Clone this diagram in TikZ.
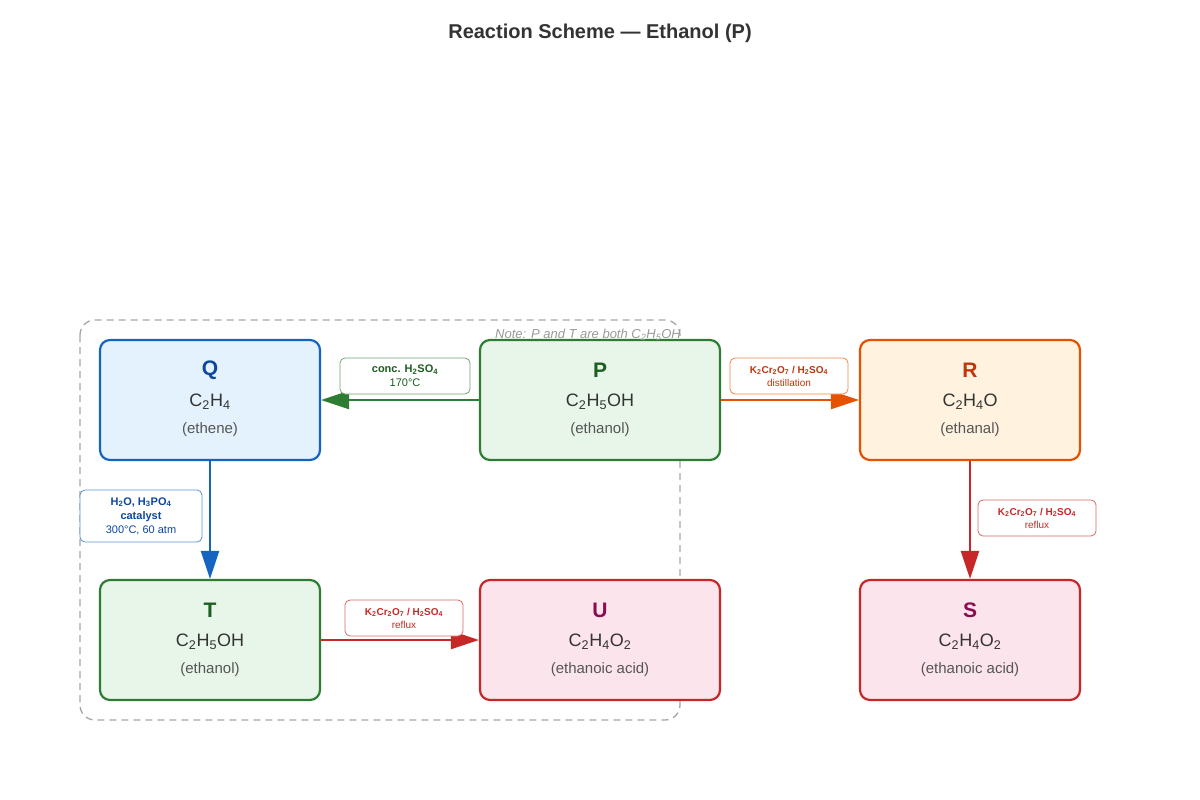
\documentclass[tikz,border=0pt]{standalone}
\usepackage{fontspec}
\setmainfont{Liberation Sans}
\usetikzlibrary{arrows.meta}
\definecolor{bl}{HTML}{1565C0}\definecolor{blf}{HTML}{E3F2FD}\definecolor{blt}{HTML}{0D47A1}
\definecolor{gr}{HTML}{2E7D32}\definecolor{grf}{HTML}{E8F5E9}\definecolor{grt}{HTML}{1B5E20}
\definecolor{or}{HTML}{E65100}\definecolor{orf}{HTML}{FFF3E0}\definecolor{ort}{HTML}{BF360C}
\definecolor{rd}{HTML}{C62828}\definecolor{rdf}{HTML}{FCE4EC}\definecolor{pu}{HTML}{880E4F}
\definecolor{tx}{HTML}{333333}\definecolor{sub}{HTML}{555555}
\newcommand{\sbs}[1]{\textsubscript{#1}}
\tikzset{
 box/.style={draw,line width=2.2pt,rounded corners=10pt,minimum width=220pt,minimum height=120pt},
 lbl/.style={draw,fill=white,rounded corners=5pt,line width=0.8pt,align=center,font=\fontsize{11}{13}\selectfont,inner sep=0pt},
 arr/.style={line width=2.5pt,-{Triangle[length=28pt,width=18pt]}},
 ttl/.style={font=\fontsize{21}{24}\selectfont\bfseries},
 frm/.style={font=\fontsize{18}{20}\selectfont,text=tx},
 nm/.style={font=\fontsize{15}{18}\selectfont,text=sub},
}
\newcommand{\chem}[6]{% name,x,y,letter,formula,sub ; colors handled outside
}
\begin{document}
\begin{tikzpicture}[x=1pt,y=-1pt]
\useasboundingbox (0,0) rectangle (1200,800);
\node[font=\fontsize{20}{24}\selectfont\bfseries,text=tx] (title) at (600,33) {Reaction Scheme — Ethanol (P)};
\draw[gray!70,dashed,line width=1.3pt,dash pattern=on 7pt off 5pt,rounded corners=15pt] (80,320) rectangle (680,720);
% boxes
\node[box,draw=bl,fill=blf] (Q) at (210,400) {};
\node[box,draw=gr,fill=grf,minimum width=240pt] (P) at (600,400) {};
\node[box,draw=or,fill=orf] (R) at (970,400) {};
\node[box,draw=gr,fill=grf] (T) at (210,640) {};
\node[box,draw=rd,fill=rdf,minimum width=240pt] (U) at (600,640) {};
\node[box,draw=rd,fill=rdf] (S) at (970,640) {};
\node[font=\fontsize{13}{15}\selectfont\itshape,text=gray!80] (note) at (588,335) {Note: P and T are both C\sbs{2}H\sbs{5}OH};
% texts
\foreach \n/\x/\y/\L/\c/\f/\s in {q/210/400/Q/blt/C\sbs{2}H\sbs{4}/(ethene), p/600/400/P/grt/C\sbs{2}H\sbs{5}OH/(ethanol), r/970/400/R/ort/C\sbs{2}H\sbs{4}O/(ethanal), t/210/640/T/grt/C\sbs{2}H\sbs{5}OH/(ethanol), u/600/640/U/pu/C\sbs{2}H\sbs{4}O\sbs{2}/(ethanoic acid), s/970/640/S/pu/C\sbs{2}H\sbs{4}O\sbs{2}/(ethanoic acid)}{
 \node[ttl,text=\c] (\n l) at (\x,\y-30) {\L};
 \node[frm] (\n f) at (\x,\y+2) {\f};
 \node[nm] (\n n) at (\x,\y+30) {\s};
}
% arrows
\draw[arr,gr] (P.west) -- (Q.east);
\draw[arr,or] (P.east) -- (R.west);
\draw[arr,bl] (Q.south) -- (T.north);
\draw[arr,rd] (T.east) -- (U.west);
\draw[arr,rd] (R.south) -- (S.north);
% labels
\node[lbl,draw=gr!70,text=grt,minimum width=130pt,minimum height=36pt] (l1) at (405,376) {\textbf{conc. H\sbs{2}SO\sbs{4}}\\[1pt]170°C};
\node[lbl,draw=or!70,text=ort,minimum width=118pt,minimum height=36pt,font=\fontsize{10}{12}\selectfont] (l2) at (789,376) {\textbf{K\sbs{2}Cr\sbs{2}O\sbs{7} / H\sbs{2}SO\sbs{4}}\\[1pt]distillation};
\node[lbl,draw=bl!70,text=blt,minimum width=122pt,minimum height=52pt] (l3) at (141,516) {\textbf{H\sbs{2}O, H\sbs{3}PO\sbs{4}}\\[1pt]\textbf{catalyst}\\[1pt]300°C, 60 atm};
\node[lbl,draw=rd!70,text=rd,minimum width=118pt,minimum height=36pt,font=\fontsize{10}{12}\selectfont] (l4) at (404,618) {\textbf{K\sbs{2}Cr\sbs{2}O\sbs{7} / H\sbs{2}SO\sbs{4}}\\[1pt]reflux};
\node[lbl,draw=rd!70,text=rd,minimum width=118pt,minimum height=36pt,font=\fontsize{10}{12}\selectfont] (l5) at (1037,518) {\textbf{K\sbs{2}Cr\sbs{2}O\sbs{7} / H\sbs{2}SO\sbs{4}}\\[1pt]reflux};
\end{tikzpicture}
\end{document}
